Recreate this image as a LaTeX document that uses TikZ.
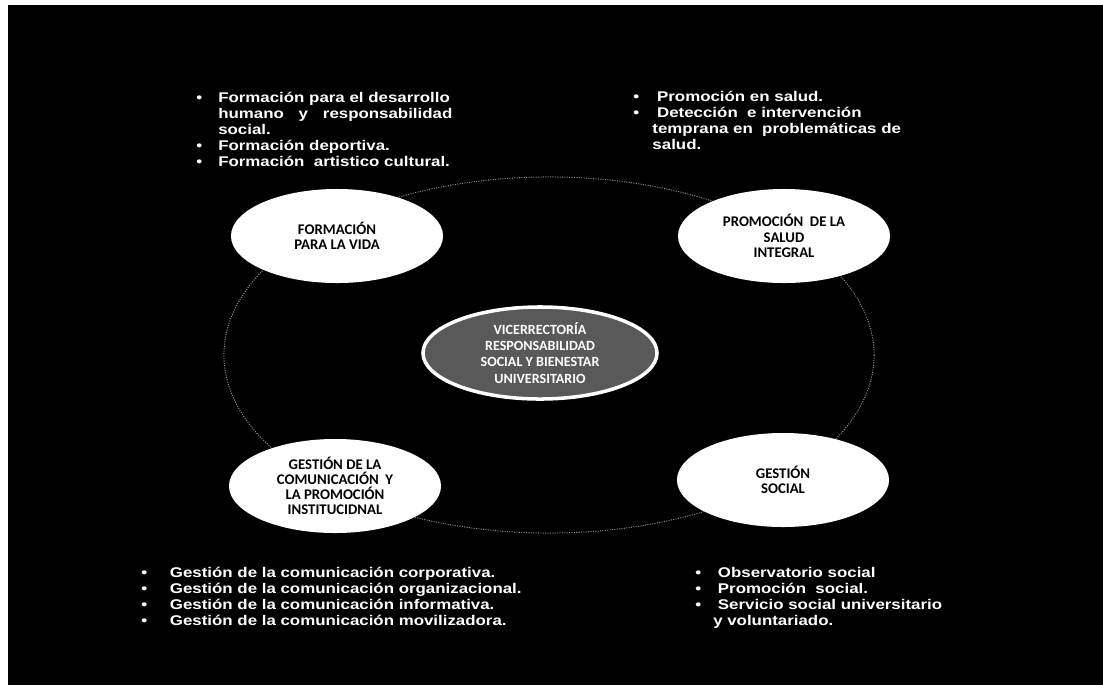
\documentclass[tikz,border=0pt]{standalone}
\usepackage{fontspec}
\setmainfont{Liberation Sans}
\newfontfamily\calfont{Carlito}
\newfontfamily\listfont[FakeStretch=1.2]{Liberation Sans}
\usetikzlibrary{shapes.geometric}

\newlength{\bltind}
\newcommand{\blt}[1][0.55cm]{\par\noindent\setlength{\bltind}{#1}%
  \makebox[\bltind][l]{\textbullet}}
\newcommand{\cnt}{\par\noindent\hspace*{\bltind}}

\tikzset{
  area/.style={
    ellipse, fill=white, minimum width=5.3cm, minimum height=2.35cm,
    inner sep=0pt, align=center, text=black,
    font=\calfont\bfseries\fontsize{10.5}{10.8}\selectfont},
  core/.style={
    ellipse, fill=black!65, draw=white, line width=2.5pt,
    minimum width=5.85cm, minimum height=2.3cm, inner sep=0pt,
    align=center, text=white,
    font=\calfont\bfseries\fontsize{10}{11.5}\selectfont},
  ring/.style={draw=gray!85, densely dotted, line width=0.7pt},
  items/.style={
    anchor=north west, inner sep=0pt, text=white, text width=#1,
    font=\listfont\bfseries\fontsize{10}{11.4}\selectfont},
}

\begin{document}
\begin{tikzpicture}[x=0.025cm, y=-0.025cm]
\fill[white] (0,0) rectangle (1103,685);
\fill[black] (8,5) rectangle (1103,685);

\coordinate (hub) at (549,355);
\draw[ring] (hub) ellipse[x radius=8.125cm, y radius=4.45cm];

\node[core] (vice) at (540,353)
  {VICERRECTORÍA\\RESPONSABILIDAD\\SOCIAL Y BIENESTAR\\UNIVERSITARIO};
\node[area] (vida) at (337,236) {FORMACIÓN\\PARA LA VIDA};
\node[area] (salud) at (784,236) {PROMOCIÓN\ \ DE LA\\SALUD\\INTEGRAL};
\node[area] (comu) at (335,486)
  {GESTIÓN DE LA\\COMUNICACIÓN\ \ Y\\LA PROMOCIÓN\\INSTITUCIDNAL};
\node[area] (social) at (783,480) {GESTIÓN\\SOCIAL};

\node[items=7.5cm] (vidalist) at (196,86) {%
  \blt Formación para el desarrollo
  \cnt\makebox[5.85cm][l]{humano\hfill y\hfill responsabilidad}
  \cnt social.
  \blt Formación deportiva.
  \blt Formación\ \ artistico cultural.};
\node[items=8cm] (saludlist) at (633,85) {%
  \blt[0.48cm] Promoción en salud.
  \blt[0.48cm] Detección\ \ e intervención
  \cnt temprana en\ \ problemáticas de
  \cnt salud.};
\node[items=11cm] (comulist) at (141,561) {%
  \blt[0.6cm] Gestión de la comunicación corporativa.
  \blt[0.6cm] Gestión de la comunicación organizacional.
  \blt[0.6cm] Gestión de la comunicación informativa.
  \blt[0.6cm] Gestión de la comunicación movilizadora.};
\node[items=7cm] (sociallist) at (695,561) {%
  \blt[0.45cm] Observatorio social
  \blt[0.45cm] Promoción\ \ social.
  \blt[0.45cm] Servicio social universitario
  \cnt y voluntariado.};
\end{tikzpicture}
\end{document}
